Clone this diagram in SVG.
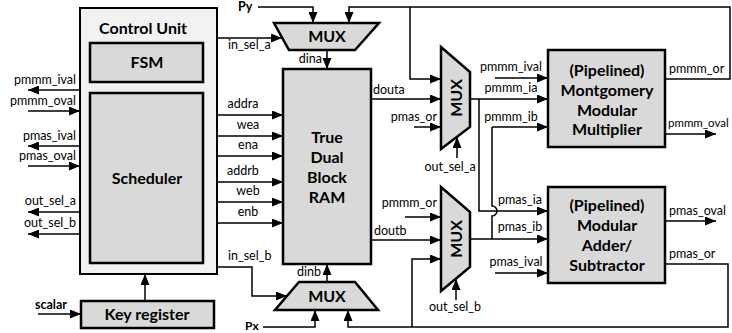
<svg xmlns="http://www.w3.org/2000/svg" width="732" height="333" viewBox="0 0 732 333">
<defs>
<marker id="ah" markerUnits="userSpaceOnUse" markerWidth="11" markerHeight="9" refX="11" refY="4.5" orient="auto"><path d="M0,0 L11,4.5 L0,9 z" fill="#000"/></marker>
<style>
.box{fill:#d9d9d9;stroke:#000;stroke-width:2.5}
.cu{fill:#f2f2f2;stroke:#000;stroke-width:2}
.w{fill:none;stroke:#000;stroke-width:1.5}
.a{marker-end:url(#ah)}
.lb{font-family:Lato,'Open Sans',sans-serif;font-size:12.5px;fill:#000}
.e{text-anchor:end}
.m{text-anchor:middle}
.bt{font-family:Lato,'Open Sans',sans-serif;font-weight:bold;font-size:16px;fill:#000;text-anchor:middle}
.bs{font-family:Lato,'Open Sans',sans-serif;font-weight:bold;font-size:12.5px;fill:#000}
</style>
</defs>
<rect width="732" height="333" fill="#fff"/>

<g id="control-unit">
<rect class="cu" x="80" y="8" width="137" height="266"/>
<text class="bt" x="143" y="34">Control Unit</text>
</g>
<g id="fsm">
<rect class="box" x="90" y="43" width="113" height="39" stroke-width="2"/>
<text class="bt" x="147" y="68">FSM</text>
</g>
<g id="scheduler">
<rect class="box" x="90" y="93" width="113" height="170" stroke-width="2"/>
<text class="bt" x="147" y="184">Scheduler</text>
</g>
<g id="key-register">
<rect class="box" x="81" y="301" width="133" height="27" stroke-width="2"/>
<text class="bt" x="147" y="320">Key register</text>
</g>
<g id="ram">
<rect class="box" x="283" y="69" width="88" height="195"/>
<text class="bt" x="327" y="143">True</text>
<text class="bt" x="327" y="163">Dual</text>
<text class="bt" x="327" y="183">Block</text>
<text class="bt" x="327" y="203">RAM</text>
</g>
<g id="mux-top">
<polygon class="box" points="274,23 379,23 355,50 289,50"/>
<text class="bt" x="327" y="42">MUX</text>
</g>
<g id="mux-bottom">
<polygon class="box" points="299,282 355,282 378,310 275,310"/>
<text class="bt" x="327" y="302">MUX</text>
</g>
<g id="mux-a">
<polygon class="box" points="441,47 470,72 470,127 441,149"/>
<text class="bt" transform="translate(462,98) rotate(-90)">MUX</text>
</g>
<g id="mux-b">
<polygon class="box" points="441,187 470,212 470,267 441,291"/>
<text class="bt" transform="translate(462,239) rotate(-90)">MUX</text>
</g>
<g id="montgomery">
<rect class="box" x="548" y="50" width="117" height="97"/>
<text class="bt" x="607" y="76">(Pipelined)</text>
<text class="bt" x="607" y="96">Montgomery</text>
<text class="bt" x="607" y="116">Modular</text>
<text class="bt" x="607" y="135">Multiplier</text>
</g>
<g id="adder">
<rect class="box" x="548" y="187" width="117" height="96"/>
<text class="bt" x="607" y="211">(Pipelined)</text>
<text class="bt" x="607" y="231">Modular</text>
<text class="bt" x="607" y="251">Adder/</text>
<text class="bt" x="607" y="271">Subtractor</text>
</g>

<g id="connectors">
<path class="w a" d="M80,90 H28"/>
<path class="w a" d="M28,111 H80"/>
<path class="w a" d="M80,146 H28"/>
<path class="w a" d="M28,166 H80"/>
<path class="w a" d="M80,212 H28"/>
<path class="w a" d="M80,234 H28"/>
<path class="w a" d="M38,314 H81"/>
<path class="w a" d="M145,301 V274"/>
<path class="w a" d="M217,38 H282"/>
<path class="w a" d="M217,115 H283"/>
<path class="w a" d="M217,136 H283"/>
<path class="w a" d="M217,156 H283"/>
<path class="w a" d="M217,182 H283"/>
<path class="w a" d="M217,202 H283"/>
<path class="w a" d="M217,223 H283"/>
<path class="w a" d="M217,267 H252 V296 H287"/>
<path class="w a" d="M327,50 V69"/>
<path class="w a" d="M327,282 V264"/>
<path class="w a" d="M258,7 H313 V23"/>
<path class="w a" d="M263,327 H315 V310"/>
<path class="w a" d="M665,79 H730 V7 H349 V23"/>
<path class="w a" d="M410,7 V79 H441"/>
<path class="w a" d="M665,264 H728 V327 H348 V310"/>
<path class="w a" d="M412,327 V259 H441"/>
<path class="w a" d="M371,99 H441"/>
<path class="w a" d="M371,240 H441"/>
<path class="w a" d="M414,127 H441"/>
<path class="w a" d="M405,217 H441"/>
<path class="w a" d="M457,158 V137"/>
<path class="w a" d="M456,300 V279"/>
<path class="w a" d="M470,99 H548"/>
<path class="w a" d="M479,99 V211 H548"/>
<path class="w a" d="M470,239 H548"/>
<path class="w" d="M492,127 V206 A5,5 0 0 1 492,216 V239"/>
<path class="w a" d="M492,127 H548"/>
<path class="w a" d="M495,78 H548"/>
<path class="w a" d="M495,273 H548"/>
<path class="w a" d="M665,134 H716"/>
<path class="w a" d="M665,221 H716"/>
</g>

<g id="labels">
<text class="lb e" x="76" y="84">pmmm_ival</text>
<text class="lb e" x="76" y="105">pmmm_oval</text>
<text class="lb e" x="76" y="140">pmas_ival</text>
<text class="lb e" x="76" y="160">pmas_oval</text>
<text class="lb e" x="76" y="205">out_sel_a</text>
<text class="lb e" x="76" y="227">out_sel_b</text>
<text class="bs" x="35" y="309">scalar</text>
<text class="bs" x="238" y="11">Py</text>
<text class="bs" x="245" y="330" style="font-size:12px">Px</text>
<text class="lb" x="228" y="49">in_sel_a</text>
<text class="lb m" x="243" y="108">addra</text>
<text class="lb m" x="248" y="129">wea</text>
<text class="lb m" x="248" y="149">ena</text>
<text class="lb m" x="243" y="175">addrb</text>
<text class="lb m" x="248" y="195">web</text>
<text class="lb m" x="248" y="216">enb</text>
<text class="lb" x="228" y="260">in_sel_b</text>
<text class="lb e" x="322" y="63">dina</text>
<text class="lb e" x="321" y="276">dinb</text>
<text class="lb" x="373" y="94">douta</text>
<text class="lb" x="374" y="235">doutb</text>
<text class="lb e" x="437" y="121">pmas_or</text>
<text class="lb e" x="437" y="207">pmmm_or</text>
<text class="lb m" x="450" y="171">out_sel_a</text>
<text class="lb m" x="455" y="311">out_sel_b</text>
<text class="lb m" x="511" y="71">pmmm_ival</text>
<text class="lb m" x="511" y="92">pmmm_ia</text>
<text class="lb m" x="511" y="121">pmmm_ib</text>
<text class="lb m" x="520" y="204">pmas_ia</text>
<text class="lb m" x="520" y="231">pmas_ib</text>
<text class="lb m" x="516" y="266">pmas_ival</text>
<text class="lb" x="669" y="73">pmmm_or</text>
<text class="lb" x="668" y="127" style="font-size:11.5px">pmmm_oval</text>
<text class="lb" x="669" y="215">pmas_oval</text>
<text class="lb" x="669" y="258">pmas_or</text>
</g>
</svg>
